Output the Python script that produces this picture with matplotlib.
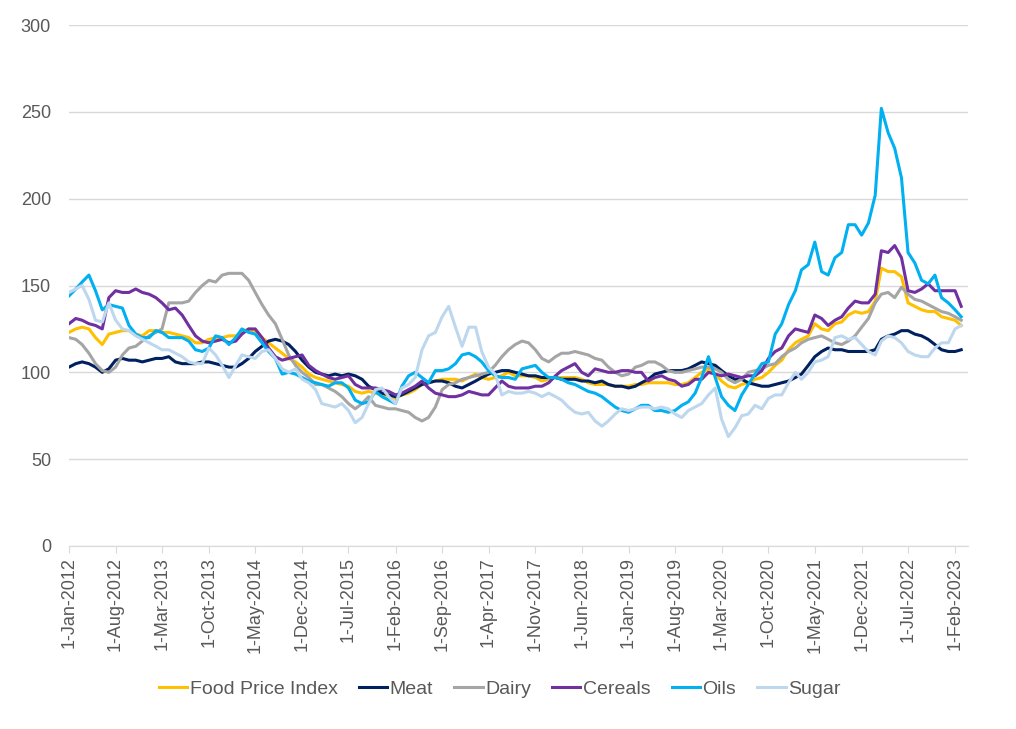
import matplotlib
matplotlib.use("Agg")
import matplotlib.pyplot as plt
import pandas as pd

plt.rcParams['font.family'] = ['Liberation Sans', 'DejaVu Sans']

months = pd.date_range('2012-01-01', periods=135, freq='MS')

food = [
    123, 125, 126, 125, 120, 116, 122, 123, 124, 124, 122, 121,
    124, 124, 123, 123, 122, 121, 120, 117, 117, 119, 120, 120,
    121, 121, 123, 125, 123, 120, 117, 114, 111, 108, 106, 103,
    99, 97, 96, 95, 94, 93, 92, 89, 88, 89, 88, 87,
    86, 85, 87, 88, 90, 93, 94, 95, 96, 96, 96, 95,
    97, 99, 97, 96, 97, 98, 100, 98, 98, 98, 97, 95,
    96, 97, 97, 97, 97, 96, 94, 93, 93, 93, 92, 92,
    92, 93, 93, 94, 94, 94, 94, 93, 93, 94, 97, 100,
    102, 99, 95, 92, 91, 93, 94, 96, 97, 100, 104, 107,
    113, 117, 119, 121, 128, 125, 124, 128, 129, 133, 135, 134,
    135, 141, 160, 158, 158, 155, 140, 138, 136, 135, 135, 132,
    131, 130, 127]

meat = [
    103, 105, 106, 105, 103, 100, 102, 107, 108, 107, 107, 106,
    107, 108, 108, 109, 106, 105, 105, 105, 106, 106, 105, 104,
    103, 103, 105, 108, 112, 115, 118, 119, 118, 116, 112, 107,
    103, 100, 99, 98, 99, 98, 99, 98, 96, 92, 90, 88,
    87, 86, 87, 89, 91, 93, 94, 95, 95, 94, 92, 91,
    93, 95, 97, 99, 100, 101, 101, 100, 99, 98, 98, 97,
    97, 97, 96, 96, 96, 95, 95, 94, 95, 93, 92, 92,
    91, 92, 94, 96, 99, 100, 101, 101, 101, 102, 104, 106,
    105, 104, 101, 98, 96, 96, 94, 93, 92, 92, 93, 94,
    95, 97, 99, 104, 109, 112, 114, 113, 113, 112, 112, 112,
    112, 113, 119, 121, 122, 124, 124, 122, 121, 119, 116, 113,
    112, 112, 113]

dairy = [
    120, 119, 116, 111, 105, 101, 100, 103, 110, 114, 115, 118,
    121, 123, 125, 140, 140, 140, 141, 146, 150, 153, 152, 156,
    157, 157, 157, 153, 146, 139, 133, 128, 119, 110, 104, 100,
    97, 93, 93, 91, 89, 86, 82, 79, 82, 86, 81, 80,
    79, 79, 78, 77, 74, 72, 74, 80, 90, 93, 94, 96,
    97, 98, 99, 100, 104, 109, 113, 116, 118, 117, 113, 108,
    106, 109, 111, 111, 112, 111, 110, 108, 107, 103, 100, 98,
    99, 103, 104, 106, 106, 104, 101, 100, 100, 101, 102, 103,
    103, 102, 100, 96, 94, 96, 100, 101, 102, 104, 105, 109,
    112, 114, 117, 119, 120, 121, 119, 117, 116, 118, 121, 126,
    131, 140, 145, 146, 143, 149, 145, 142, 141, 139, 137, 135,
    134, 132, 130]

cereals = [
    128, 131, 130, 128, 127, 125, 143, 147, 146, 146, 148, 146,
    145, 143, 140, 136, 137, 133, 127, 121, 118, 117, 118, 119,
    117, 118, 122, 125, 125, 120, 114, 109, 107, 108, 109, 110,
    104, 101, 99, 97, 96, 97, 98, 93, 91, 91, 91, 90,
    89, 87, 88, 90, 92, 95, 91, 88, 87, 86, 86, 87,
    89, 88, 87, 87, 91, 95, 92, 91, 91, 91, 92, 92,
    94, 98, 101, 103, 105, 100, 98, 102, 101, 100, 100, 101,
    101, 100, 100, 95, 97, 98, 96, 95, 92, 93, 96, 96,
    100, 99, 98, 99, 98, 97, 98, 98, 101, 108, 112, 114,
    121, 125, 124, 123, 133, 131, 127, 130, 132, 137, 141, 140,
    140, 145, 170, 169, 173, 166, 147, 146, 148, 151, 147, 147,
    147, 147, 138]

oils = [
    144, 148, 152, 156, 147, 136, 139, 138, 137, 127, 122, 120,
    120, 124, 123, 120, 120, 120, 118, 113, 112, 114, 121, 120,
    116, 120, 125, 123, 122, 117, 112, 108, 99, 100, 99, 97,
    95, 94, 93, 92, 94, 94, 91, 84, 82, 83, 89, 86,
    84, 82, 92, 98, 100, 97, 94, 101, 101, 102, 105, 110,
    111, 109, 106, 101, 98, 97, 97, 96, 102, 103, 104, 100,
    97, 97, 96, 94, 93, 91, 89, 88, 86, 83, 80, 78,
    77, 79, 81, 81, 78, 78, 77, 78, 81, 83, 88, 97,
    109, 97, 86, 81, 78, 87, 93, 99, 105, 106, 122, 128,
    139, 147, 159, 162, 175, 158, 156, 166, 169, 185, 185, 179,
    186, 202, 252, 238, 229, 212, 169, 163, 153, 151, 156, 143,
    140, 136, 132]

sugar = [
    146, 148, 150, 142, 130, 129, 140, 130, 125, 124, 121, 119,
    117, 115, 113, 113, 111, 109, 106, 105, 105, 114, 110, 104,
    97, 104, 110, 109, 108, 112, 113, 108, 102, 100, 102, 96,
    94, 90, 82, 81, 80, 82, 78, 71, 74, 82, 90, 91,
    86, 82, 91, 93, 97, 113, 121, 123, 132, 138, 126, 115,
    126, 126, 112, 103, 99, 87, 89, 88, 88, 89, 88, 86,
    88, 86, 84, 80, 77, 76, 77, 72, 69, 72, 76, 79,
    78, 79, 80, 80, 79, 80, 79, 76, 74, 78, 80, 82,
    87, 91, 73, 63, 68, 75, 76, 81, 79, 85, 87, 87,
    94, 100, 96, 100, 106, 107, 109, 120, 121, 119, 120, 116,
    112, 110, 118, 121, 120, 117, 112, 110, 109, 109, 114, 117,
    117, 125, 127]

names = ["Food Price Index", "Meat", "Dairy", "Cereals", "Oils", "Sugar"]
colors = ["#FFC000", "#002060", "#A5A5A5", "#7030A0", "#00B0F0", "#BDD7EE"]

fig = plt.figure(figsize=(10.16, 7.29), dpi=100)
ax = fig.add_axes([69/1016, 183/729, 899/1016, 521/729])

for vals, name, c in zip([food, meat, dairy, cereals, oils, sugar], names, colors):
    ax.plot(months, vals, color=c, lw=2.2, label=name, solid_joinstyle='round')

txt = "#595959"
ax.set_ylim(0, 300)
ax.set_yticks(range(0, 301, 50))
ax.set_xlim(months[0], pd.Timestamp('2023-04-01'))
ticks = months[::7]
ax.set_xticks(ticks)
ax.set_xticklabels([f"{d.day}-{d.strftime('%b')}-{d.year}" for d in ticks], rotation=90)

ax.grid(axis='y', color='#D9D9D9', lw=1)
ax.set_axisbelow(True)
for s in ['top', 'right', 'left']:
    ax.spines[s].set_visible(False)
ax.spines['bottom'].set_color('#D9D9D9')
ax.tick_params(axis='y', length=0, labelsize=13, labelcolor=txt, pad=13)
ax.tick_params(axis='x', length=5, color='#D9D9D9', labelsize=13, labelcolor=txt, pad=3)

fig.legend(loc='center', bbox_to_anchor=(0.492, 0.055), ncol=6, frameon=False,
           fontsize=14, handlelength=1.45, handletextpad=0.12, columnspacing=1.1,
           labelcolor=txt)

fig.savefig("out.png", dpi=100)
